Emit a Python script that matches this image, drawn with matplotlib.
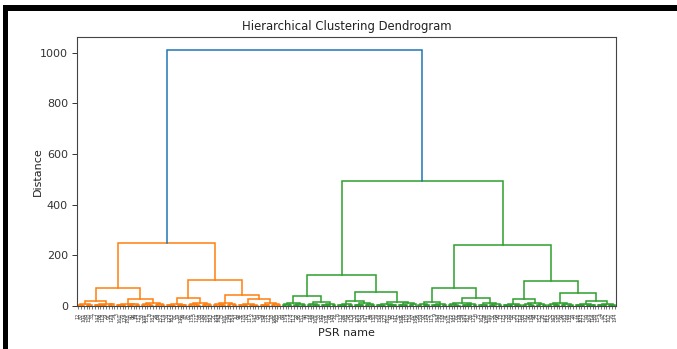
import matplotlib
matplotlib.use("Agg")
import matplotlib.pyplot as plt
from matplotlib.patches import Rectangle

# Linkage tree: an internal node is [distance, left, right]; a leaf is the
# observation index of a pulsar.
o1 = [7.5, [3.2, 12, [1.4, 87, 101]], [4.1, [2.0, 45, 150], 33]]
o2 = [9.8, [5.6, [2.3, 7, 142], [3.0, 66, [1.2, 118, 29]]], [6.4, [2.8, 91, 173], 54]]
o3 = [8.6, [4.9, [2.1, 3, 160], [3.3, 77, 124]], [6.0, [2.6, 188, [1.5, 40, 96]], [3.1, 19, 137]]]
o4 = [11.5, [6.8, [3.4, 58, 109], [2.4, 131, [1.3, 8, 182]]], [7.7, [4.0, 25, 69], [3.6, 152, 114]]]
o5 = [8.8, [4.4, [2.2, 36, 127], [1.7, 163, 81]], [5.9, [3.1, 14, 190], [2.5, 99, 47]]]
o6 = [11.9, [7.0, [3.5, 62, 135], [4.2, 5, [1.9, 171, 88]]], [6.3, [2.9, 120, 43], [2.2, 156, 193]]]
o7 = [12.4, [6.6, [3.0, 21, 104], [4.5, [2.0, 148, 73], 166]], [8.1, [3.8, 50, 129], [2.7, 184, 10]]]
o8 = [9.0, [5.1, [2.4, 93, 31], [3.2, 176, 60]], [5.8, [2.6, 117, 2], [1.8, 145, 84]]]
o9 = [10.2, [5.5, [2.7, 39, 158], [3.4, 71, 122]], [6.9, [3.7, 18, 186], [2.1, 103, 55]]]

g1 = [12.1, [6.2, [3.1, 64, 139], [2.3, 1, 178]], [7.4, [3.9, 112, [1.6, 27, 95]], [2.8, 151, 44]]]
g2 = [14.3, [7.9, [3.8, 79, 126], [4.6, [2.2, 16, 169], 53]],
      [9.2, [4.3, [2.5, 191, 37], [3.0, 108, 68]], [3.5, 143, 22]]]
g3 = [18.2, [9.6, [4.8, [2.4, 6, 133], [3.1, 85, 161]], [2.9, 48, 119]],
      [11.3, [5.2, [2.6, 30, 175], [3.7, 102, 59]], [6.1, [3.3, 147, 11], [2.0, 89, 130]]]]
g4 = [16.4, [8.7, [4.1, [2.3, 74, 155], [1.9, 35, 123]], [5.4, [3.0, 180, 97], [2.5, 15, 141]]],
      [10.5, [5.8, [2.7, 52, 168], [3.6, 83, 110]], [6.7, [3.2, 136, 67], 189]]]
g5 = [14.6, [7.3, [3.6, 26, 159], [4.4, [2.0, 92, 174], 57]],
      [9.5, [4.9, [2.8, 115, 9], [3.2, 183, 70]], [2.4, 138, 41]]]
g6 = [12.2, [6.5, [3.3, 100, 17], [2.6, 165, [1.5, 61, 128]]],
      [7.8, [4.1, [2.2, 34, 149], [2.9, 187, 86]], [3.4, 121, 0]]]
g7 = [10.1, [5.3, [2.7, 75, 162], [3.5, 28, 106]], [6.4, [3.0, 144, [1.7, 51, 179]], [2.3, 90, 13]]]
g8 = [9.4, [4.7, [2.5, 125, 38], [3.1, 170, 82]], [5.6, [2.8, 20, 153], 113]]
g9 = [12.0, [6.3, [3.2, 65, 192], [2.4, 46, [1.6, 134, 98]]], [7.6, [3.9, 23, 157], [3.3, 78, 181]]]
g10 = [13.8, [7.1, [3.6, 111, 32], [4.3, [2.1, 167, 56], 140]], [8.4, [4.2, 94, 185], [3.0, [1.8, 63, 132], 24]]]
g11 = [9.2, [4.8, [2.6, 72, 146], [3.2, 105, 177]], [5.7, [2.9, 49, 164], [2.2, 116, 80]]]
g12 = [8.9, [4.5, [2.3, 154, 4], [3.0, 42, 172]], [5.2, [2.7, 107, 76], 194]]

left_cluster = [248, [71, [21, o1, o2], [28, o3, o4]],
                [103, [30, o5, o6], [44, o7, [27, o8, o9]]]]
right_cluster = [492, [123, [40, g1, g2], [54, g3, g4]],
                 [242, [70, g5, [33, g6, g7]],
                  [100, [28, g8, g9], [53, g10, [21, g11, g12]]]]]
linkage_tree = [1012, left_cluster, right_cluster]

palette = ["C1", "C2", "C3", "C4"]
above_color = "C0"


def max_height(node):
    if isinstance(node, int):
        return 0.0
    return max(node[0], max_height(node[1]), max_height(node[2]))


top = max_height(linkage_tree)
threshold = 0.7 * top

leaf_ids = []
links = []
color_counter = [0]


def walk(node, color):
    if isinstance(node, int):
        x = 5.0 + 10.0 * len(leaf_ids)
        leaf_ids.append(node)
        return x, 0.0
    h, a, b = node
    if color is None and h < threshold:
        color = palette[color_counter[0] % len(palette)]
        color_counter[0] += 1
    xa, ha = walk(a, color)
    xb, hb = walk(b, color)
    links.append(([xa, xa, xb, xb], [ha, h, h, hb], color or above_color))
    return 0.5 * (xa + xb), h


walk(linkage_tree, None)
n = len(leaf_ids)

W, H = 677, 349
fig = plt.figure(figsize=(W / 100, H / 100), dpi=100)
ax = fig.add_axes([77 / W, (H - 306) / H, 539 / W, (306 - 37) / H])

for xs, ys, c in links:
    ax.plot(xs, ys, color=c, lw=1.1, solid_joinstyle="miter")

ax.set_xlim(0, 10 * n)
ax.set_ylim(0, top * 1.05)
ax.set_xticks([5 + 10 * i for i in range(n)])
ax.set_xticklabels([str(i) for i in leaf_ids], rotation=90, fontsize=3.6)
ax.tick_params(axis="x", length=2.5, width=0.5, pad=2.5, colors="#444444")
ax.tick_params(axis="y", labelsize=8, length=3.5, width=0.7, pad=3, colors="#333333")
for s in ax.spines.values():
    s.set_color("#444444")
    s.set_linewidth(0.8)

ax.set_title("Hierarchical Clustering Dendrogram", fontsize=8.4, color="#222222", pad=5)
ax.set_xlabel("PSR name", fontsize=8, color="#222222", labelpad=4)
ax.set_ylabel("Distance", fontsize=8, color="#222222")
ax.yaxis.set_label_coords(-0.064, 0.5)

# black frame on the top and left edges
fig.add_artist(Rectangle((4 / W, 1 - 11 / H), 1 - 4 / W, 6 / H,
                         transform=fig.transFigure, color="black", lw=0))
fig.add_artist(Rectangle((3 / W, 0), 4.5 / W, 1 - 5 / H,
                         transform=fig.transFigure, color="black", lw=0))

fig.savefig("out.png", dpi=100)
